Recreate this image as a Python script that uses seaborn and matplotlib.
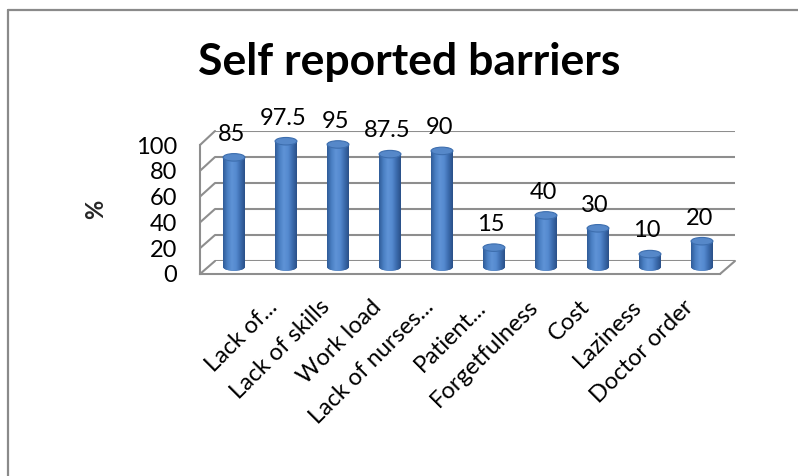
import numpy as np
import pandas as pd
import matplotlib
matplotlib.use("Agg")
import matplotlib.pyplot as plt
import seaborn as sns
from matplotlib.patches import Ellipse
from matplotlib.lines import Line2D
from matplotlib.colors import LinearSegmentedColormap

# ---- data -------------------------------------------------------------
tick_labels = ["", "Lack of...", "Lack of skills", "Work load", "Lack of nurses...",
               "Patient...", "Forgetfulness", "Cost", "Laziness", "Doctor order"]
percent = [85, 97.5, 95, 87.5, 90, 15, 40, 30, 10, 20]
y_ticks = [0, 20, 40, 60, 80, 100]
title = "Self reported barriers"
y_label = "%"

df = pd.DataFrame({"barrier": tick_labels, "percent": percent})

# ---- style ------------------------------------------------------------
sns.set_style("white")
plt.rcParams["font.family"] = ["Lato", "DejaVu Sans"]

W, H, DPI = 798, 476, 100
fig = plt.figure(figsize=(W / DPI, H / DPI), dpi=DPI)
fig.patch.set_facecolor("white")

GRID = "#8e8e8e"
FS = 17
N = len(tick_labels)


def place(ax, x_left, x_right, y_zero, y_hundred, ylim):
    """Position an axes so that category edges and the 0/100 levels land on
    the given pixel positions (pixel y measured from the top)."""
    sy = (y_zero - y_hundred) / 100.0
    top_px = y_zero - ylim[1] * sy
    bot_px = y_zero - ylim[0] * sy
    ax.set_position([x_left / W, 1 - bot_px / H,
                     (x_right - x_left) / W, (bot_px - top_px) / H])
    ax.set_xlim(-0.5, N - 0.5)
    ax.set_ylim(*ylim)
    ax.set_facecolor("none")


# three depth planes of the pseudo-3D frame: back wall, bar row, front edge
ax_back = fig.add_axes([0, 0, 1, 1], zorder=1)
ax_bar = fig.add_axes([0, 0, 1, 1], zorder=2)
ax_front = fig.add_axes([0, 0, 1, 1], zorder=3)

place(ax_back, 215, 735, 261, 131, (0, 100))
place(ax_bar, 208, 728, 267, 138, (-10, 115))
place(ax_front, 200, 720, 274, 145, (0, 100))

# ---- back wall gridlines ---------------------------------------------
for v in y_ticks:
    ax_back.plot([-0.5, N - 0.5], [v, v], color=GRID, lw=1.5, solid_capstyle="butt")
ax_back.axis("off")

# ---- bars (cylinders) -------------------------------------------------
sns.barplot(data=df, x="barrier", y="percent", order=tick_labels,
            color="#4a7ebf", saturation=1, width=0.42, ax=ax_bar)
ax_bar.set_xlim(-0.5, N - 0.5)
ax_bar.set_ylim(-10, 115)

body_cmap = LinearSegmentedColormap.from_list(
    "cyl", ["#2f5c98", "#4a7fc3", "#5f93d6", "#558ad0", "#3c6cae", "#2a5088"])
grad = np.linspace(0, 1, 64).reshape(1, -1)

px_per_unit_y = (267 - 138) / 100.0
cap_h = 7.5 / px_per_unit_y  # ellipse height in data units

for patch in list(ax_bar.patches):
    x0, w, h = patch.get_x(), patch.get_width(), patch.get_height()
    cx = x0 + w / 2
    patch.set_edgecolor("none")
    # curved bottom of the cylinder
    bottom = Ellipse((cx, 0), w, cap_h, facecolor="#2f5c98", edgecolor="none", zorder=2)
    ax_bar.add_patch(bottom)
    for clip in (patch, bottom):
        im = ax_bar.imshow(grad, cmap=body_cmap, aspect="auto",
                           extent=[x0, x0 + w, -cap_h, h], zorder=3,
                           interpolation="bilinear")
        im.set_clip_path(clip)
    # top face
    ax_bar.add_patch(Ellipse((cx, h), w, cap_h, facecolor="#5688c9",
                             edgecolor="#3d6eae", lw=0.8, zorder=4))
    ax_bar.annotate(f"{h:g}", xy=(cx, h), xytext=(-2, 12), textcoords="offset points",
                    ha="center", va="baseline", fontsize=FS, color="black", zorder=5)

ax_bar.set_xlim(-0.5, N - 0.5)
ax_bar.set_ylim(-10, 115)
ax_bar.axis("off")

# ---- front edge: value axis and category axis --------------------------
for side in ("top", "right"):
    ax_front.spines[side].set_visible(False)
for side in ("left", "bottom"):
    ax_front.spines[side].set_color(GRID)
    ax_front.spines[side].set_linewidth(1.5)

ax_front.set_yticks(y_ticks)
ax_front.set_yticklabels([str(v) for v in y_ticks], fontsize=FS)
ax_front.tick_params(axis="y", direction="out", length=5.5, width=1.5,
                     color=GRID, pad=11, labelcolor="black")
ax_front.set_xticks(np.arange(N + 1) - 0.5)
ax_front.set_xticklabels([])
ax_front.tick_params(axis="x", direction="out", length=6, width=1.5, color=GRID)

for i, lab in enumerate(tick_labels):
    ax_front.annotate(lab, xy=(i, 0), xycoords="data", xytext=(-8, -16),
                      textcoords="offset points", rotation=45,
                      rotation_mode="anchor", ha="right", va="top",
                      fontsize=FS, color="black")

ax_front.set_ylabel(y_label, fontsize=FS, fontweight="bold", labelpad=21)

# ---- side wall and floor diagonals joining front and back ---------------
to_fig = fig.transFigure.inverted()


def join(x, v):
    p0 = to_fig.transform(ax_front.transData.transform((x, v)))
    p1 = to_fig.transform(ax_back.transData.transform((x, v)))
    fig.add_artist(Line2D([p0[0], p1[0]], [p0[1], p1[1]], color=GRID, lw=1.5,
                          transform=fig.transFigure, zorder=0.5))


for v in y_ticks:
    join(-0.5, v)
join(N - 0.5, 0)

# ---- title and chart-area border --------------------------------------
fig.text(409 / W, 1 - 75 / H, title, ha="center", va="baseline",
         fontsize=32, fontweight="bold", color="black")
fig.add_artist(Line2D([8 / W, 1.0], [1 - 10 / H, 1 - 10 / H], color="#8a8a8a",
                      lw=1.6, transform=fig.transFigure))
fig.add_artist(Line2D([8 / W, 8 / W], [0, 1 - 10 / H], color="#8a8a8a",
                      lw=1.6, transform=fig.transFigure))

fig.savefig("out.png", dpi=DPI, facecolor="white")
